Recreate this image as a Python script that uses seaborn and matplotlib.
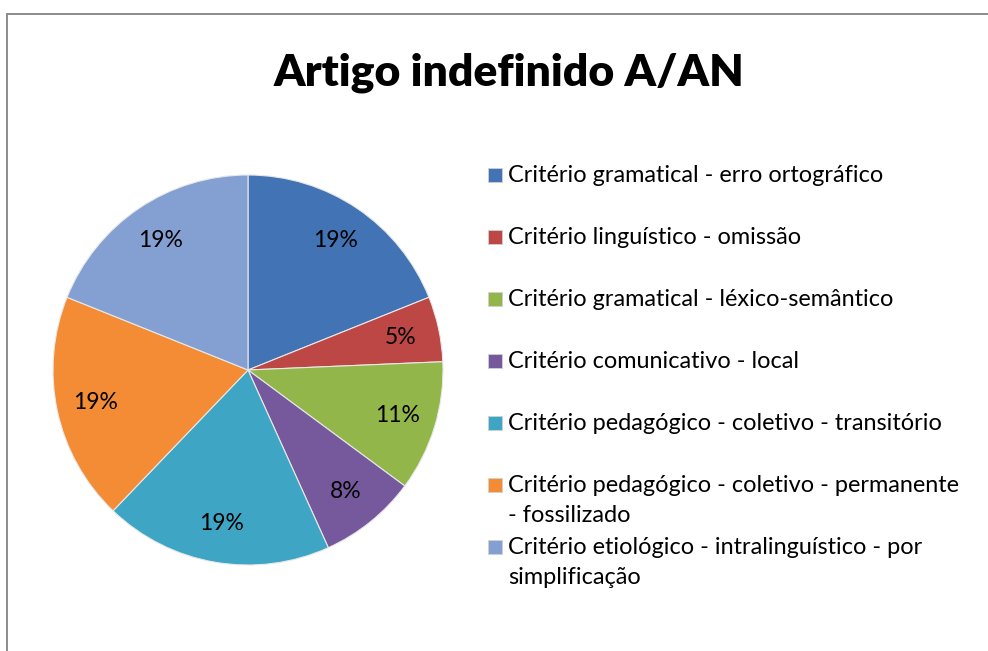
import numpy as np
import seaborn as sns
import matplotlib.pyplot as plt
from matplotlib.patches import Rectangle
from matplotlib.lines import Line2D

# data (counts read as percentages of 37 errors)
categorias = [
    "Critério gramatical - erro ortográfico",
    "Critério linguístico - omissão",
    "Critério gramatical - léxico-semântico",
    "Critério comunicativo - local",
    "Critério pedagógico - coletivo - transitório",
    "Critério pedagógico - coletivo - permanente\n- fossilizado",
    "Critério etiológico - intralinguístico - por\nsimplificação",
]
ocorrencias = [7, 2, 4, 3, 7, 7, 7]
cores = ["#4273B5", "#BD4744", "#92B64A", "#76599D", "#3EA6C4", "#F38C35", "#849FD2"]

sns.set_theme(style="white")
plt.rcParams['font.family'] = ['Lato', 'DejaVu Sans']

W, H = 988, 651
fig = plt.figure(figsize=(W / 100, H / 100), dpi=100)
fig.patch.set_facecolor("white")

# chart frame (only left and top visible)
fig.add_artist(Line2D([7 / W, 7 / W], [0, 1 - 14 / H], transform=fig.transFigure, color="#8c8c8c", lw=1.4))
fig.add_artist(Line2D([7 / W, 1], [1 - 14 / H, 1 - 14 / H], transform=fig.transFigure, color="#8c8c8c", lw=1.4))

# pie
cx, cy, r = 248, 370, 195
ax = fig.add_axes([(cx - r) / W, (H - cy - r) / H, 2 * r / W, 2 * r / H])
wedges, _, autotexts = ax.pie(
    ocorrencias, colors=sns.color_palette(cores), startangle=90, counterclock=False,
    autopct=lambda p: f"{p:.0f}%", pctdistance=0.8,
    wedgeprops=dict(edgecolor="#e8e8e8", linewidth=0.8),
    textprops=dict(fontsize=16.5, color="black"),
)
ax.set_xlim(-1, 1)
ax.set_ylim(-1, 1)
ax.set_aspect("equal")
ax.axis("off")

# title
fig.text(509 / W, 1 - 73 / H, "Artigo indefinido A/AN", ha="center", va="center",
         fontsize=32, fontweight="heavy", color="black")

# legend, drawn by hand to keep Excel's spacing
y = 175
for lab, c in zip(categorias, cores):
    fig.add_artist(Rectangle((488 / W, 1 - (y + 7) / H), 14 / W, 14 / H,
                             transform=fig.transFigure, facecolor=c, edgecolor="#d0d0d0", lw=0.6))
    linhas = lab.split("\n")
    for i, ln in enumerate(linhas):
        fig.text(508 / W, 1 - (y + 31 * i) / H, ln, ha="left", va="center",
                 fontsize=16.9, color="black")
    y += 62

fig.savefig("out.png", dpi=100)
